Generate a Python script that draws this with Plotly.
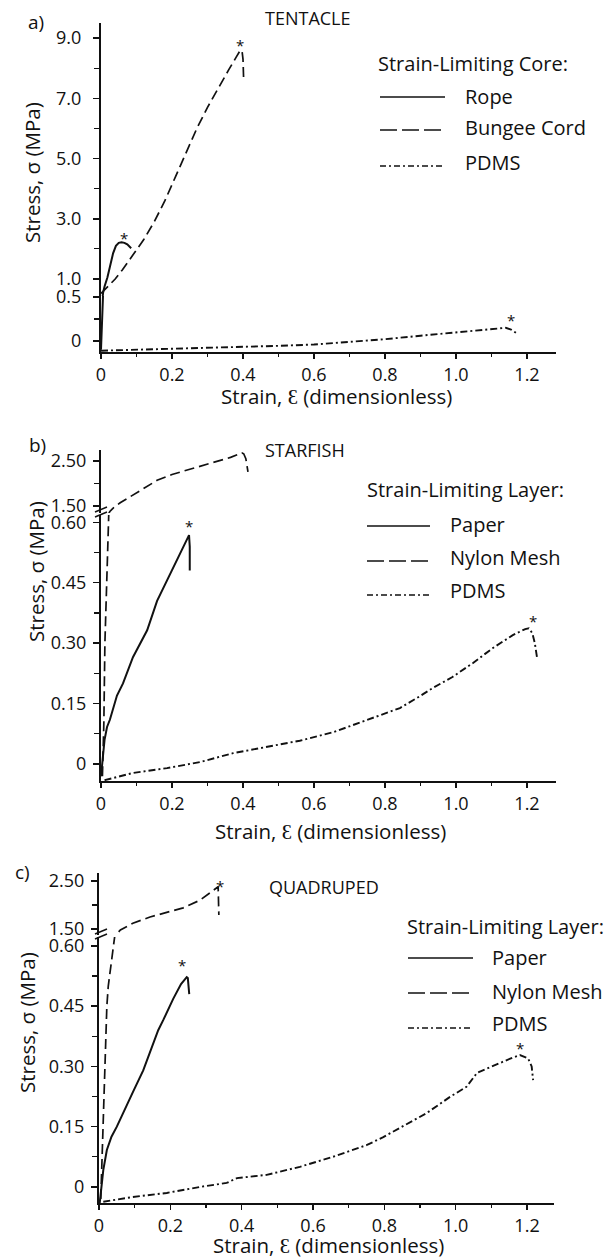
import plotly.graph_objects as go

# ---------------- data ----------------
strain_ticks = [0, 0.2, 0.4, 0.6, 0.8, 1.0, 1.2]
strain_ticktext = ["0", "0.2", "0.4", "0.6", "0.8", "1.0", "1.2"]
strain_minor = [0.1, 0.3, 0.5, 0.7, 0.9, 1.1]

# Panel a) TENTACLE
a_low_ticks = [0, 0.5]
a_low_text = ["0", "0.5"]
a_low_minor = [0.25]
a_up_ticks = [1, 3, 5, 7, 9]
a_up_text = ["1.0", "3.0", "5.0", "7.0", "9.0"]
a_up_minor = [2, 4, 6, 8]

a_rope_x = [0.0, 0.003, 0.006, 0.01, 0.018, 0.025, 0.034, 0.042, 0.05, 0.058, 0.066, 0.074, 0.08, 0.085]
a_rope_y = [-0.1, 0.25, 0.55, 0.75, 1.05, 1.4, 1.85, 2.1, 2.2, 2.22, 2.2, 2.15, 2.08, 2.02]
a_bungee_x = [0.0, 0.02, 0.04, 0.06, 0.09, 0.12, 0.15, 0.18, 0.21, 0.24, 0.27, 0.3, 0.33, 0.36, 0.38, 0.39, 0.397, 0.40, 0.402]
a_bungee_y = [0.52, 0.75, 1.0, 1.3, 1.8, 2.3, 2.9, 3.6, 4.4, 5.2, 6.0, 6.7, 7.35, 7.95, 8.35, 8.55, 8.6, 8.3, 7.55]
a_pdms_x = [0.0, 0.1, 0.2, 0.3, 0.4, 0.5, 0.6, 0.7, 0.8, 0.9, 1.0, 1.1, 1.14, 1.155, 1.17]
a_pdms_y = [-0.11, -0.1, -0.09, -0.08, -0.07, -0.055, -0.04, -0.01, 0.02, 0.06, 0.1, 0.14, 0.15, 0.13, 0.09]
a_star_x = [0.066, 0.392, 1.155]
a_star_y = [2.46, 8.87, 0.277]
a_star_axis = ["up", "up", "low"]
a_legend_title = "Strain-Limiting Core:"
a_legend_names = ["Rope", "Bungee Cord", "PDMS"]

# Panel b) STARFISH
bc_low_ticks = [0, 0.15, 0.30, 0.45, 0.60]
bc_low_text = ["0", "0.15", "0.30", "0.45", "0.60"]
bc_low_minor = [0.075, 0.225, 0.375, 0.525]
bc_up_ticks = [1.5, 2.5]
bc_up_text = ["1.50", "2.50"]
bc_up_minor = [2.0]

b_paper_x = [0.0, 0.005, 0.01, 0.017, 0.025, 0.045, 0.062, 0.09, 0.13, 0.158, 0.186, 0.21, 0.245, 0.248, 0.25, 0.25]
b_paper_y = [-0.03, 0.02, 0.06, 0.092, 0.11, 0.17, 0.2, 0.265, 0.332, 0.405, 0.457, 0.5, 0.563, 0.568, 0.54, 0.48]
b_nylon_x = [0.004, 0.008, 0.011, 0.014, 0.016, 0.018, 0.02, 0.025, 0.035, 0.054, 0.09, 0.12, 0.158, 0.2, 0.242, 0.285, 0.327, 0.365, 0.397, 0.402, 0.408, 0.412, 0.414]
b_nylon_y = [-0.03, 0.1, 0.3, 0.5, 0.62, 0.9, 1.3, 1.38, 1.46, 1.57, 1.74, 1.9, 2.07, 2.2, 2.3, 2.4, 2.49, 2.58, 2.68, 2.66, 2.55, 2.4, 2.26]
b_pdms_x = [0.01, 0.09, 0.186, 0.279, 0.372, 0.467, 0.56, 0.654, 0.749, 0.842, 0.89, 0.935, 0.99, 1.048, 1.104, 1.16, 1.195, 1.205, 1.215, 1.222, 1.228]
b_pdms_y = [-0.04, -0.022, -0.01, 0.005, 0.027, 0.042, 0.058, 0.079, 0.109, 0.139, 0.164, 0.189, 0.216, 0.251, 0.288, 0.32, 0.335, 0.337, 0.325, 0.3, 0.266]
b_star_x = [0.248, 0.406, 1.217]
b_star_y = [0.598, 2.9, 0.362]
b_star_axis = ["low", "up", "low"]

# Panel c) QUADRUPED
c_paper_x = [0.002, 0.006, 0.012, 0.022, 0.035, 0.05, 0.07, 0.095, 0.124, 0.14, 0.152, 0.166, 0.18, 0.208, 0.23, 0.246, 0.249, 0.252, 0.253]
c_paper_y = [-0.04, 0.0, 0.042, 0.092, 0.125, 0.15, 0.19, 0.236, 0.29, 0.33, 0.36, 0.39, 0.415, 0.468, 0.505, 0.522, 0.52, 0.5, 0.48]
c_nylon_x = [0.005, 0.01, 0.015, 0.019, 0.022, 0.026, 0.031, 0.038, 0.043, 0.045, 0.046, 0.06, 0.095, 0.143, 0.19, 0.236, 0.283, 0.33, 0.334, 0.335, 0.336]
c_nylon_y = [-0.03, 0.1, 0.25, 0.38, 0.45, 0.5, 0.532, 0.58, 0.61, 0.63, 1.37, 1.48, 1.62, 1.75, 1.85, 1.94, 2.1, 2.35, 2.38, 2.1, 1.79]
c_pdms_x = [0.012, 0.095, 0.19, 0.283, 0.358, 0.387, 0.47, 0.563, 0.656, 0.75, 0.797, 0.844, 0.919, 0.984, 1.03, 1.06, 1.124, 1.16, 1.18, 1.203, 1.213, 1.217]
c_pdms_y = [-0.037, -0.025, -0.015, 0.0, 0.01, 0.022, 0.03, 0.05, 0.075, 0.104, 0.124, 0.147, 0.184, 0.224, 0.249, 0.284, 0.309, 0.322, 0.328, 0.32, 0.3, 0.266]
c_star_x = [0.233, 0.339, 1.18]
c_star_y = [0.56, 2.46, 0.353]
c_star_axis = ["low", "up", "low"]
bc_legend_title = "Strain-Limiting Layer:"
bc_legend_names = ["Paper", "Nylon Mesh", "PDMS"]

panel_letters = ["a)", "b)", "c)"]
panel_titles = ["TENTACLE", "STARFISH", "QUADRUPED"]
x_title = "Strain, Ɛ (dimensionless)"
y_title = "Stress, σ (MPa)"

# ---------------- styling / layout ----------------
W, H = 616, 1260
FONT = "Open Sans"
INK = "#111111"
SOLID = dict(color=INK, width=2.0)
DASHED = dict(color=INK, width=1.7, dash="10px,5px")
DASHDOT = dict(color=INK, width=1.9, dash="7px,3px,2px,3px")


def fx(px):
    return px / W


def fy(py):
    return 1 - py / H


fig = go.Figure()

# axis geometry (pixel space)
panels = [
    dict(xn="", yl="", yu="2", xdom=(101, 556), xr=(0, 1.2817),
         low=(296, 352), lowr=(-0.125, 0.511), up=(23, 296), upr=(0.435, 9.5),
         lt=(a_low_ticks, a_low_text, a_low_minor), ut=(a_up_ticks, a_up_text, a_up_minor),
         series=[(a_rope_x, a_rope_y, SOLID), (a_bungee_x, a_bungee_y, DASHED), (a_pdms_x, a_pdms_y, DASHDOT)],
         stars=(a_star_x, a_star_y, a_star_axis), standoff=8),
    dict(xn="2", yl="3", yu="4", xdom=(101, 556), xr=(0, 1.2817),
         low=(515, 781), lowr=(-0.042, 0.618), up=(450, 513), upr=(1.344, 2.744),
         lt=(bc_low_ticks, bc_low_text, bc_low_minor), ut=(bc_up_ticks, bc_up_text, bc_up_minor),
         series=[(b_paper_x, b_paper_y, SOLID), (b_nylon_x, b_nylon_y, DASHED), (b_pdms_x, b_pdms_y, DASHDOT)],
         stars=(b_star_x, b_star_y, b_star_axis), standoff=3),
    dict(xn="3", yl="5", yu="6", xdom=(99, 554), xr=(0, 1.2756),
         low=(937, 1203), lowr=(-0.04, 0.622), up=(873, 935), upr=(1.375, 2.667),
         lt=(bc_low_ticks, bc_low_text, bc_low_minor), ut=(bc_up_ticks, bc_up_text, bc_up_minor),
         series=[(c_paper_x, c_paper_y, SOLID), (c_nylon_x, c_nylon_y, DASHED), (c_pdms_x, c_pdms_y, DASHDOT)],
         stars=(c_star_x, c_star_y, c_star_axis), standoff=3),
]

tickfont = dict(family=FONT, size=18, color=INK)
layout = dict(width=W, height=H, autosize=False, margin=dict(l=0, r=0, t=0, b=0, pad=0),
              paper_bgcolor="white", plot_bgcolor="white", showlegend=False)

annotations = []
shapes = []

for p in panels:
    xa = "x" + p["xn"]
    yla = "y" + p["yl"]
    yua = "y" + p["yu"]
    layout["xaxis" + p["xn"]] = dict(
        domain=[fx(p["xdom"][0]), fx(p["xdom"][1])], range=list(p["xr"]), anchor=yla,
        automargin=False,
        showgrid=False, zeroline=False, showline=True, linecolor=INK, linewidth=2,
        tickmode="array", tickvals=strain_ticks, ticktext=strain_ticktext,
        ticks="outside", ticklen=5, tickwidth=1.5, tickcolor=INK, tickfont=tickfont,
        minor=dict(tickvals=strain_minor, ticks="outside", ticklen=3, tickwidth=1.2, tickcolor=INK),
        fixedrange=True)
    for key, dom, rng, tk in (("yaxis" + p["yl"], p["low"], p["lowr"], p["lt"]),
                              ("yaxis" + p["yu"], p["up"], p["upr"], p["ut"])):
        layout[key] = dict(
            domain=[fy(dom[1]), fy(dom[0])], range=list(rng), anchor=xa,
            automargin=False,
            showgrid=False, zeroline=False, showline=True, linecolor=INK, linewidth=2,
            tickmode="array", tickvals=tk[0], ticktext=tk[1],
            ticks="outside", ticklen=6, tickwidth=1.5, tickcolor=INK, tickfont=tickfont,
            ticklabelstandoff=p["standoff"],
            minor=dict(tickvals=tk[2], ticks="outside", ticklen=5, tickwidth=1.2, tickcolor=INK),
            fixedrange=True)
    for sx, sy, style in p["series"]:
        for ya in (yla, yua):
            fig.add_trace(go.Scatter(x=sx, y=sy, mode="lines", line=style,
                                     xaxis=xa, yaxis=ya, hoverinfo="skip"))
    for sx, sy, which in zip(*p["stars"]):
        annotations.append(dict(text="*", x=sx, y=sy, xref=xa,
                                yref=(yua if which == "up" else yla),
                                showarrow=False, yshift=-3,
                                font=dict(family=FONT, size=15, color=INK)))


def text(t, x, y, size, xanchor="left", angle=0):
    annotations.append(dict(text=t, x=fx(x), y=fy(y), xref="paper", yref="paper",
                            showarrow=False, xanchor=xanchor, yanchor="middle",
                            textangle=angle, borderpad=0,
                            font=dict(family=FONT, size=size, color=INK)))


# panel letters and titles
for t, (x, y) in zip(panel_letters, [(36, 22), (37, 445), (22, 872)]):
    text(t, x, y, 19, "center")
for t, (x, y) in zip(panel_titles, [(264, 18), (264, 450), (268, 887)]):
    text(t, x, y, 18, "left")

# axis titles
for (x, y) in [(336, 396), (330, 831), (328, 1245)]:
    text(x_title, x, y, 20.5, "center")
for (x, y) in [(32, 173), (36, 572), (27, 1023)]:
    text(y_title, x, y, 20.5, "center", angle=-90)

# legends
legend_specs = [
    (a_legend_title, a_legend_names, 378, 63, (380, 445), 465, [97, 130, 166], [97, 128, 163]),
    (bc_legend_title, bc_legend_names, 367, 490, (367, 430), 450, [526, 561, 595], [524, 557, 590]),
    (bc_legend_title, bc_legend_names, 407, 926, (408, 473), 492, [958, 993, 1028], [957, 991, 1023]),
]
legend_dash = [None, "17px,5px", "6px,3px,2px,3px"]
for title, names, tx, ty, (lx0, lx1), nx, line_y, name_y in legend_specs:
    text(title, tx - 1, ty, 20, "left")
    for name, ly, ny, dash in zip(names, line_y, name_y, legend_dash):
        ln = dict(color=INK, width=1.7)
        if dash:
            ln["dash"] = dash
        shapes.append(dict(type="line", xref="paper", yref="paper",
                           x0=fx(lx0), x1=fx(lx1), y0=fy(ly), y1=fy(ly), line=ln))
        text(name, nx - 1, ny, 20, "left")

# axis break marks (panels b and c)
for base in (512, 934):
    for dy in (0, 5):
        shapes.append(dict(type="line", xref="paper", yref="paper",
                           x0=fx(95), y0=fy(base + dy), x1=fx(107), y1=fy(base + dy - 5),
                           line=dict(color=INK, width=1.5)))

layout["annotations"] = annotations
layout["shapes"] = shapes
fig.update_layout(**layout)
fig.write_html("out.html", config={"displayModeBar": False, "staticPlot": True},
               post_script="document.body.style.margin='0px';document.body.style.overflow='hidden';")
